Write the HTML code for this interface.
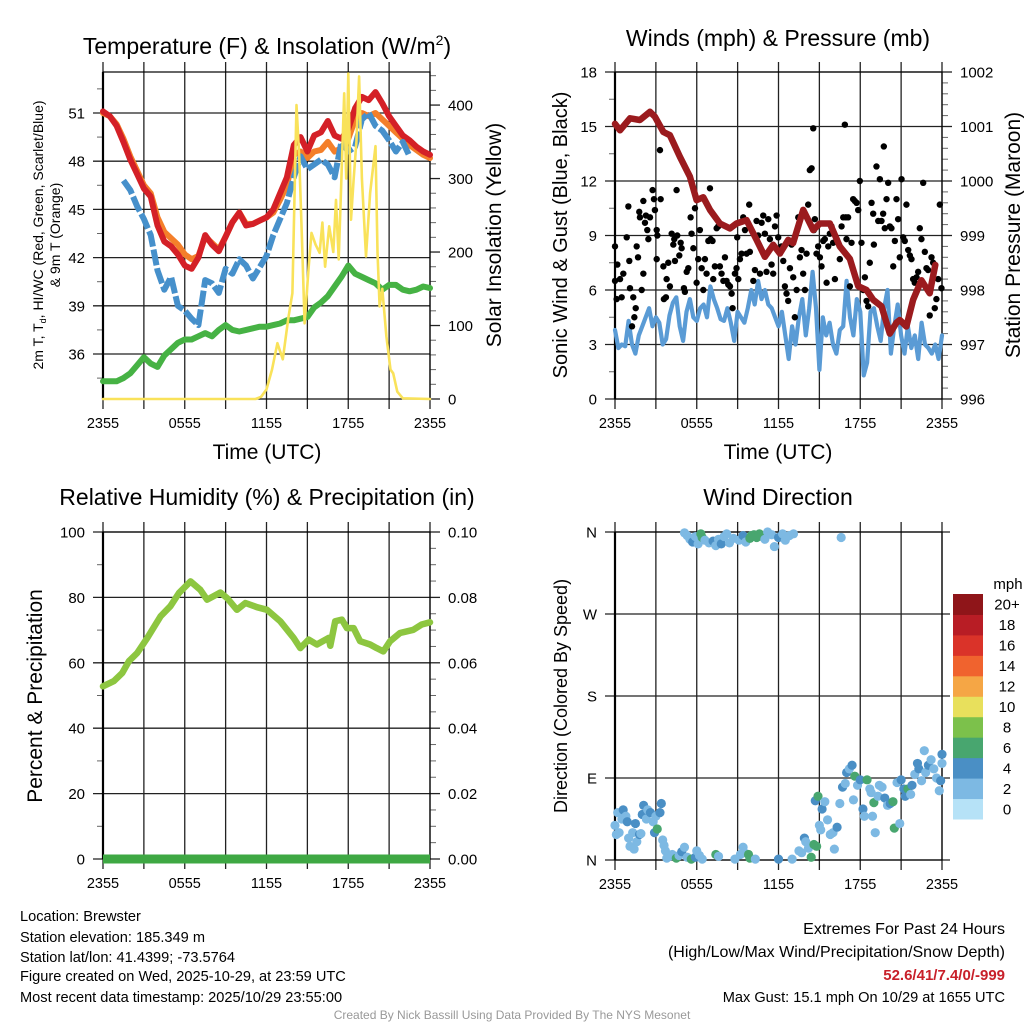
<!DOCTYPE html>
<html><head><meta charset="utf-8"><title>Mesonet Meteogram</title>
<style>
html,body{margin:0;padding:0;background:#fff;}
svg{display:block;font-family:"Liberation Sans",Arial,sans-serif;}
</style></head>
<body>
<svg id="chart" width="1024" height="1024" viewBox="0 0 1024 1024" xmlns="http://www.w3.org/2000/svg">
<rect x="0" y="0" width="1024" height="1024" fill="#fff"/>
<g id="layer"></g>
<text x="267" y="54" font-size="23" text-anchor="middle">Temperature (F) &amp; Insolation (W/m<tspan font-size="14" dy="-9">2</tspan><tspan dy="9">)</tspan></text>
<text x="778" y="46" font-size="23" text-anchor="middle">Winds (mph) &amp; Pressure (mb)</text>
<text x="267" y="505" font-size="23" text-anchor="middle">Relative Humidity (%) &amp; Precipitation (in)</text>
<text x="778" y="505" font-size="23" text-anchor="middle">Wind Direction</text>
<text transform="translate(43,235) rotate(-90)" font-size="14" text-anchor="middle">2m T, T<tspan font-size="9" dy="3">d</tspan><tspan dy="-3">, HI/WC (Red, Green, Scarlet/Blue)</tspan></text>
<text transform="translate(60,235) rotate(-90)" font-size="14" text-anchor="middle">&amp; 9m T (Orange)</text>
<text transform="translate(501,235) rotate(-90)" font-size="21" text-anchor="middle">Solar Insolation (Yellow)</text>
<text x="267" y="459" font-size="21" text-anchor="middle">Time (UTC)</text>
<text transform="translate(567,235) rotate(-90)" font-size="20" text-anchor="middle">Sonic Wind &amp; Gust (Blue, Black)</text>
<text transform="translate(1020,235) rotate(-90)" font-size="21" text-anchor="middle">Station Pressure (Maroon)</text>
<text x="778" y="459" font-size="21" text-anchor="middle">Time (UTC)</text>
<text transform="translate(42,696) rotate(-90)" font-size="21" text-anchor="middle">Percent &amp; Precipitation</text>
<text transform="translate(567,696) rotate(-90)" font-size="18" text-anchor="middle">Direction (Colored By Speed)</text>
<text x="1008" y="589" font-size="15" text-anchor="middle">mph</text>
<g font-size="14.6">
<text x="20" y="921">Location: Brewster</text>
<text x="20" y="942">Station elevation: 185.349 m</text>
<text x="20" y="962">Station lat/lon: 41.4399; -73.5764</text>
<text x="20" y="981">Figure created on Wed, 2025-10-29, at 23:59 UTC</text>
<text x="20" y="1002">Most recent data timestamp: 2025/10/29 23:55:00</text>
</g>
<g text-anchor="end">
<text x="1005" y="934" font-size="16">Extremes For Past 24 Hours</text>
<text x="1005" y="957" font-size="16">(High/Low/Max Wind/Precipitation/Snow Depth)</text>
<text x="1005" y="980" font-size="15" font-weight="bold" fill="#c8202a">52.6/41/7.4/0/-999</text>
<text x="1005" y="1002" font-size="14.6">Max Gust: 15.1 mph On 10/29 at 1655 UTC</text>
</g>
<text x="512" y="1019" font-size="12" fill="#999" text-anchor="middle">Created By Nick Bassill Using Data Provided By The NYS Mesonet</text>
</svg>
<script>
// ---------- DATA ----------
const halfHours = [0,0.5,1,1.5,2,2.5,3,3.5,4,4.5,5,5.5,6,6.5,7,7.5,8,8.5,9,9.5,10,10.5,11,11.5,12,12.5,13,13.5,14,14.5,15,15.5,16,16.5,17,17.5,18,18.5,19,19.5,20,20.5,21,21.5,22,22.5,23,23.5,24];
const tempRed = [51.1,50.8,50.2,49.2,48.1,47.2,46.3,45.8,44.0,43.0,42.7,42.2,41.5,41.3,42.0,43.4,42.8,42.4,43.3,44.2,44.8,44.0,44.1,44.3,44.5,45.0,46.0,47.0,49.0,49.5,48.6,49.6,49.8,50.5,49.6,49.4,50.0,51.3,52.0,51.8,52.3,51.6,50.8,50.2,49.6,49.3,48.9,48.6,48.4];
const tempOrange = [51.0,50.8,50.3,49.4,48.3,47.4,46.5,46.0,44.5,43.6,43.2,42.8,42.2,41.9,42.1,43.3,42.9,42.5,43.3,44.2,44.8,44.1,44.1,44.3,44.5,44.8,45.6,46.5,48.4,48.6,48.2,48.6,48.7,49.2,48.6,48.8,49.4,50.6,51.0,50.8,51.0,50.6,50.2,49.8,49.4,49.0,48.7,48.4,48.2];
const tempBlue = [null,49.0,null,46.8,46.2,45.2,44.4,43.4,41.2,40.0,40.8,39.0,38.7,38.2,37.8,40.6,40.4,39.8,41.3,41.0,41.9,41.5,40.7,41.4,42.1,43.4,44.4,45.4,47.0,48.3,47.5,47.8,48.1,47.8,47.0,49.2,48.6,48.9,50.6,51.0,50.2,49.9,49.3,48.6,49.2,48.3,null,null,null];
const dewGreen = [34.3,34.3,34.3,34.5,34.8,35.3,35.8,35.4,35.2,35.9,36.3,36.7,36.9,36.9,37.1,37.3,37.1,37.5,37.8,37.5,37.4,37.5,37.6,37.7,37.7,37.8,37.9,38.1,38.1,38.2,38.3,38.9,39.2,39.6,40.2,40.8,41.5,41.0,40.8,40.6,40.4,40.0,40.3,40.3,40.0,39.9,40.0,40.2,40.1];
const solarHours = [0,11.2,11.6,12,12.4,12.8,13.2,13.6,13.9,14.2,14.4,14.6,14.8,15.1,15.3,15.6,15.9,16.1,16.3,16.6,16.9,17.1,17.3,17.5,17.7,17.85,18,18.2,18.4,18.6,18.8,19.0,19.3,19.6,20.0,20.15,20.3,20.5,20.8,21.1,21.3,21.6,22,24];
const solarValues = [0,0,3,13,40,76,54,110,144,400,330,220,103,180,226,210,199,240,180,235,200,271,190,300,416,300,443,244,300,350,439,300,194,280,344,200,126,150,85,40,35,10,1,0];
const presHours = [0,0.37,1.1,1.83,2.57,2.93,3.55,4.03,4.77,5.5,5.99,6.48,6.97,7.7,8.44,8.92,9.66,10.39,11.0,11.61,12.1,12.71,13.07,13.81,14.55,15.04,15.77,16.5,17.24,17.85,18.46,18.95,19.56,20.17,20.66,20.9,21.39,21.88,22.49,23.1,23.51];
const presValues = [1001.05,1000.93,1001.15,1001.12,1001.27,1001.18,1000.9,1000.84,1000.44,1000.08,999.65,999.7,999.47,999.22,999.13,999.22,999.28,998.92,998.61,998.83,998.67,998.92,998.86,999.47,999.1,999.22,999.22,998.8,998.57,998.07,998.0,997.82,997.7,997.2,997.4,997.45,997.33,997.82,998.18,997.94,998.46];
const windHours = [0,0.25,0.5,0.75,1,1.25,1.5,1.75,2,2.25,2.5,2.75,3,3.25,3.5,3.75,4,4.25,4.5,4.75,5,5.25,5.5,5.75,6,6.25,6.5,6.75,7,7.25,7.5,7.75,8,8.25,8.5,8.75,9,9.25,9.5,9.75,10,10.25,10.5,10.75,11,11.25,11.5,11.75,12,12.25,12.5,12.75,13,13.25,13.5,13.75,14,14.25,14.5,14.75,15,15.25,15.5,15.75,16,16.25,16.5,16.75,17,17.25,17.5,17.75,18,18.25,18.5,18.75,19,19.25,19.5,19.75,20,20.25,20.5,20.75,21,21.25,21.5,21.75,22,22.25,22.5,22.75,23,23.25,23.5,23.75,24];
const windValues = [3.8,2.8,3.0,2.9,4.3,3.0,2.5,3.5,4.0,4.5,5.0,4.0,4.5,4.2,3.0,3.3,4.6,5.3,5.6,4.0,3.2,4.8,5.5,4.5,4.3,5.0,5.2,4.5,6.2,5.5,5.0,4.4,4.3,5.0,4.2,3.2,4.8,4.5,4.2,5.0,6.0,5.2,6.5,5.5,6.0,5.2,5.0,4.5,4.0,4.8,3.5,2.2,4.0,3.0,4.5,5.5,3.5,5.0,7.0,5.0,1.6,4.5,3.5,4.2,3.0,2.5,3.8,4.0,6.5,4.5,3.5,5.5,4.8,1.3,2.0,4.8,5.0,4.0,3.2,5.0,6.0,2.5,4.0,5.2,3.5,2.5,4.0,2.8,3.5,2.2,4.2,3.0,2.8,2.5,3.0,2.2,3.5];
const gustHours = [
0.00,0.00,0.17,0.12,0.37,0.49,0.61,0.86,0.98,1.05,
1.10,1.25,1.34,1.42,1.52,1.59,1.69,1.78,1.83,1.96,
2.08,2.08,2.20,2.27,2.37,2.45,2.57,2.76,2.86,2.93,
3.06,3.11,3.06,3.30,3.35,3.55,3.59,3.74,3.79,3.91,
4.03,4.16,4.28,4.35,4.40,4.52,4.57,4.72,4.82,4.89,
5.06,5.13,5.26,5.38,5.55,5.62,5.75,5.87,5.99,6.11,
6.23,6.36,6.48,6.60,6.72,6.85,6.97,7.02,7.16,7.21,
7.33,7.46,7.58,7.70,7.82,7.95,8.07,8.19,8.31,8.44,
8.56,8.63,8.80,8.92,8.97,9.05,9.17,9.29,9.41,9.54,
9.66,9.85,9.90,10.15,10.27,10.39,10.51,10.64,10.76,10.88,
11.00,11.12,11.25,11.37,11.49,11.61,11.74,11.86,11.98,12.22,
12.35,12.47,12.59,12.71,12.84,12.96,13.08,13.20,13.33,13.45,
13.57,13.69,13.81,13.94,14.06,14.18,14.30,14.43,14.55,14.60,
14.67,14.79,14.91,15.04,15.16,15.28,15.40,15.53,15.65,15.77,
15.89,16.01,16.14,16.26,16.50,16.63,16.75,16.87,16.94,16.99,
17.11,17.24,17.36,17.48,17.60,17.73,17.85,17.97,18.09,18.22,
18.34,18.46,18.58,18.70,18.83,18.95,19.00,19.19,19.32,19.44,
19.56,19.68,19.73,19.80,19.93,20.05,20.17,20.29,20.42,20.54,
20.66,20.78,20.90,21.03,21.15,21.27,21.39,21.52,21.64,21.76,
21.88,22.00,22.13,22.25,22.37,22.49,22.62,22.74,22.86,22.98,
23.10,23.23,23.35,23.47,23.59,23.72,23.84,23.96];
const gustValues = [
8.4,6.5,7.4,5.5,6.6,5.6,6.9,8.9,10.6,7.6,
6.1,4.0,5.6,4.5,5.0,8.4,7.8,10.3,10.0,6.0,
10.9,6.9,9.7,10.1,9.3,8.8,10.0,11.5,11.0,10.4,
9.3,9.0,7.7,13.7,11.0,7.3,5.5,5.6,6.6,7.5,
6.2,9.1,8.5,8.8,7.6,11.5,9.0,7.9,8.6,8.3,
6.1,5.9,7.0,7.2,10.0,9.1,8.3,10.5,6.4,7.7,
9.3,7.2,6.0,7.7,6.9,8.7,11.6,8.8,8.7,6.6,
7.3,9.4,9.5,7.3,6.9,6.5,7.8,6.5,6.3,6.2,
5.8,5.0,6.9,7.2,8.9,6.6,7.7,8.0,10.0,9.3,
8.0,10.7,8.1,6.5,7.1,9.8,9.0,6.9,9.7,10.1,
9.1,7.0,9.9,8.8,7.4,6.9,9.5,10.1,8.9,8.4,
7.6,6.2,5.8,5.4,7.2,8.5,6.7,4.5,6.0,10.0,
7.8,8.2,6.9,6.0,8.0,10.7,12.6,12.7,14.9,9.3,
9.9,8.0,8.4,7.8,7.3,8.7,8.8,6.4,8.4,9.1,
9.5,8.6,6.6,8.8,7.7,9.5,10.0,15.1,10.0,8.8,
10.0,6.2,8.6,11.0,10.9,10.8,10.4,12.0,8.6,6.0,
6.7,5.4,5.1,7.5,10.8,10.2,8.5,12.8,9.8,12.1,
9.8,10.2,13.9,9.4,11.0,11.9,9.5,9.4,7.3,8.7,
11.0,9.9,7.8,12.1,8.9,8.7,10.7,8.2,7.9,7.7,
6.6,6.4,6.7,7.0,9.4,8.8,11.9,8.1,7.2,7.1,
4.6,7.8,7.5,5.0,5.5,6.6,10.7,6.1];
const rhHours = [0,0.8,1.42,1.9,2.51,3.25,4.22,4.95,5.57,6.42,7.15,7.64,8.62,9.11,9.83,10.45,11.3,12.04,13.01,13.99,14.48,15.09,15.7,16.56,16.68,17.04,17.53,17.9,18.39,18.87,19.6,20.09,20.58,21.07,21.8,22.78,23.39,24];
const rhValues = [52.8,54.4,56.9,60.5,63.0,67.6,74.2,77.3,81.3,84.9,82.3,79.3,81.5,79.8,76.2,78.3,77.0,76.2,72.7,67.6,64.5,67.1,65.6,67.6,65.2,72.7,73.2,70.6,70.6,66.6,65.6,64.5,63.5,66.6,69.1,70.1,71.7,72.4];
const precipHours = [0,24];
const precipValues = [0,0];
const dirHours = [5.1,5.3,5.5,5.7,5.9,6.1,6.3,6.4,6.6,6.9,7.2,7.4,7.6,7.8,8.0,8.2,8.4,8.7,9.1,9.4,9.6,9.9,10.0,10.2,10.4,10.6,10.8,11.0,11.2,11.5,11.7,12.0,12.3,12.5,12.8,13.1,16.6,0.0,0.1,0.2,0.3,0.5,0.6,0.8,0.9,1.0,1.1,1.3,1.4,1.5,1.6,1.8,1.9,2.0,2.1,2.3,2.4,2.6,2.8,2.9,3.0,3.1,3.3,3.4,3.5,3.6,3.7,3.8,4.0,4.2,4.5,4.7,4.9,5.1,5.3,5.6,5.9,6.0,6.2,6.4,7.4,7.6,8.8,9.2,9.4,9.5,9.8,9.9,10.3,12.0,13.0,13.5,13.7,13.9,14.0,14.2,14.4,14.6,14.8,15.0,15.1,14.7,14.9,15.2,15.4,15.6,15.8,16.1,16.0,16.3,16.5,16.7,16.9,17.0,17.2,17.4,17.6,17.5,17.8,18.0,18.2,18.3,18.5,18.7,18.8,19.0,18.9,19.1,19.3,19.4,19.6,19.8,20.0,20.2,20.4,20.5,20.7,20.9,21.0,21.2,21.3,21.5,21.7,21.8,22.0,22.2,22.3,22.5,22.7,22.8,23.0,23.2,23.4,23.6,23.8,23.9,24.0,24.0];
const dirValues = [359,356,352,349,355,347,358,354,351,348,350,345,352,347,355,358,348,353,351,356,349,353,356,357,354,358,355,352,360,357,344,354,358,351,356,358,354,38,28,52,30,45,55,48,42,24,15,30,12,40,20,28,29,50,60,45,55,52,42,30,48,34,52,62,22,16,10,2,4,6,2,5,9,14,3,1,3,10,5,1,6,4,1,6,14,8,6,2,1,1,1,10,8,24,20,13,3,17,15,38,33,65,70,56,64,44,28,12,30,36,62,80,84,96,100,104,92,66,82,88,56,48,88,78,74,63,48,30,70,82,80,68,60,62,64,35,85,40,88,78,70,78,72,82,94,106,100,87,120,96,104,110,100,90,76,87,116,106];
const dirSpeeds = [3,3,3.5,4,3,3,6.5,7,3,3,4,3.5,2.5,4,3,3.5,3,2.5,3,4,3,6.5,7,6.5,7,6,6.5,3.5,3,3.5,3,4,3,2.5,3,3,3.5,3,3,2.5,2.5,2,4,3.5,4,2.5,2,3,2.5,4,3,4,3.5,4,4,3.5,3,4,3.5,4,3.5,6.5,4,4,3.5,3,2,3.5,3,3.5,6.5,3,4,3.5,3,6.5,4,3.5,3,3,6.5,3.5,3.5,3,3.5,2.5,6.5,7,3,4,3.5,3.5,3,4,2.5,3.5,7,6.5,7,3,3.5,4,6.5,4,3,3,3,2,3.5,4,2,4,3,4,3.5,4,6.5,2.5,3,4,4,3.5,7,2,2,6.5,3,3.5,3,2.5,3,4,3.5,4,6.5,6.5,3.5,3,4,4,4,6.5,3,4,3,4,4,3,2,2.5,4,2.5,2,2,2.5,4,4,2];
const speedLabels = ['0','2','4','6','8','10','12','14','16','18','20+'];
const speedColors = ['#b6e2f7','#7db9e3','#4a8fc5','#48a66f','#7cc14b','#e8e05c','#f5a645','#f0632e','#da3329','#b81d25','#8f1519'];
const timeTickLabels = ['2355','0555','1155','1755','2355'];
const tempTicks = [36,39,42,45,48,51];
const solarTicks = [0,100,200,300,400];
const windTicks = [0,3,6,9,12,15,18];
const presTicks = [996,997,998,999,1000,1001,1002];
const rhTicks = [0,20,40,60,80,100];
const precipTicks = ['0.00','0.02','0.04','0.06','0.08','0.10'];
const dirTicks = [0,90,180,270,360];
const dirTickLabels = ['N','E','S','W','N'];

// ---------- HELPERS ----------
const NS='http://www.w3.org/2000/svg';
const layer=document.getElementById('layer');
function mk(tag,attrs,parent){const e=document.createElementNS(NS,tag);for(const k in attrs)e.setAttribute(k,attrs[k]);(parent||layer).appendChild(e);return e;}
function lin(d0,d1,r0,r1){return v=>r0+(v-d0)/(d1-d0)*(r1-r0);}
function pathFrom(xs,ys,sx,sy){let d='',pen=false;for(let i=0;i<xs.length;i++){if(ys[i]===null||ys[i]===undefined){pen=false;continue;}d+=(pen?'L':'M')+sx(xs[i]).toFixed(1)+' '+sy(ys[i]).toFixed(1);pen=true;}return d;}

const panels=[
 {id:'temperature',x0:103,x1:430,y0:72,y1:399},
 {id:'winds',x0:615,x1:942,y0:72,y1:399},
 {id:'humidity',x0:103,x1:430,y0:532,y1:859},
 {id:'direction',x0:615,x1:942,y0:532,y1:860}
];

function drawFrame(p,leftTicks,leftScale,leftLabels,leftMinor,rightTicks,rightScale,rightLabels,rightMinor){
 const g=mk('g',{});
 
 
 const sx=lin(0,24,p.x0,p.x1);
 for(let h=0;h<=24;h+=3){
  const x=sx(h);
  const l=mk('line',{x1:x,x2:x,y1:p.y0-10,y2:p.y1+10,stroke:'#222','stroke-width':1.3},g);
  
  
 }
 timeTickLabels.forEach((t,i)=>{
  const tx=mk('text',{x:sx(i*6),y:p.y1+29,'font-size':14.5,'text-anchor':'middle'},g);
  tx.textContent=t;
  
  
 });
 leftTicks.forEach((v,i)=>{
  const y=leftScale(v);
  const l=mk('line',{x1:p.x0-10,x2:p.x1+(rightTicks?0:8),y1:y,y2:y,stroke:'#222','stroke-width':1.3},g);
  
  
  const tx=mk('text',{x:p.x0-18,y:y+5.5,'font-size':15,'text-anchor':'end'},g);
  tx.textContent=leftLabels[i];
  
  
 });
 (leftMinor||[]).forEach(v=>{
  const y=leftScale(v);
  const l=mk('line',{x1:p.x0-6,x2:p.x0,y1:y,y2:y,stroke:'#666','stroke-width':1},g);
  
  
 });
 if(rightTicks){
  rightTicks.forEach((v,i)=>{
   const y=rightScale(v);
   const l=mk('line',{x1:p.x1,x2:p.x1+10,y1:y,y2:y,stroke:'#222','stroke-width':1.3},g);
   
   
   const tx=mk('text',{x:p.x1+18,y:y+5.5,'font-size':15,'text-anchor':'start'},g);
   tx.textContent=rightLabels[i];
   
   
  });
  (rightMinor||[]).forEach(v=>{
   const y=rightScale(v);
   const l=mk('line',{x1:p.x1,x2:p.x1+6,y1:y,y2:y,stroke:'#666','stroke-width':1},g);
   
   
  });
 }
 const f=mk('rect',{x:p.x0,y:p.y0,width:p.x1-p.x0,height:p.y1-p.y0,fill:'none',stroke:'#000','stroke-width':1.2},g);
 
 
 const lb=mk('line',{x1:p.x0,x2:p.x0,y1:p.y0,y2:p.y1,stroke:'#000','stroke-width':2.2},g);
 
 
 return sx;
}
function line(name,xs,ys,sx,sy,color,w,extra){
 const e=mk('path',Object.assign({d:pathFrom(xs,ys,sx,sy),fill:'none',stroke:color,'stroke-width':w,'stroke-linejoin':'round','stroke-linecap':'round'},extra||{}));
 
 
 return e;
}

// ---------- PANEL 1: temperature ----------
{
 const p=panels[0];
 const sy=lin(33.2,53.55,p.y1,p.y0), sr=lin(0,445,p.y1,p.y0);
 const minorT=[34.5,37.5,40.5,43.5,46.5,49.5,52.5];
 const minorS=[];for(let v=20;v<=440;v+=20)if(v%100)minorS.push(v);
 const sx=drawFrame(p,tempTicks,sy,tempTicks.map(String),minorT,solarTicks,sr,solarTicks.map(String),minorS);
 line('temperature-9m-orange-line',halfHours,tempOrange,sx,sy,'#f47f2a',6);
 line('temperature-2m-red-line',halfHours,tempRed,sx,sy,'#d42027',6);
 line('heat-index-blue-line',halfHours,tempBlue,sx,sy,'#4690cb',6,{'stroke-dasharray':'16 3','stroke-linecap':'butt'});
 line('dewpoint-green-line',halfHours,dewGreen,sx,sy,'#46b244',6);
 line('solar-insolation-yellow-line',solarHours,solarValues,sx,sr,'#f9e25a',2.6);
}
// ---------- PANEL 2: winds ----------
{
 const p=panels[1];
 const sy=lin(0,18,p.y1,p.y0), sr=lin(996,1002,p.y1,p.y0);
 const minorW=[1.5,4.5,7.5,10.5,13.5,16.5];
 const minorP=[];for(let v=996.2;v<1002;v+=0.2){if(Math.abs(v-Math.round(v))>0.05)minorP.push(v);}
 const sx=drawFrame(p,windTicks,sy,windTicks.map(String),minorW,presTicks,sr,presTicks.map(String),minorP);
 line('sonic-wind-blue-line',windHours,windValues,sx,sy,'#5a9bd5',4.2);
 const gg=mk('g',{});
 
 
 const ng=Math.min(gustHours.length,gustValues.length);
 for(let i=0;i<ng;i++){
  const c=mk('circle',{cx:sx(gustHours[i]),cy:sy(gustValues[i]),r:3.2,fill:'#000'},gg);
  
  
 }
 line('station-pressure-maroon-line',presHours,presValues,sx,sr,'#9b1b1e',6.5);
}
// ---------- PANEL 3: humidity ----------
{
 const p=panels[2];
 const sy=lin(0,100,p.y1,p.y0), sr=lin(0,0.1,p.y1,p.y0);
 const minorR=[10,30,50,70,90];
 const minorP=[];for(let v=0.005;v<0.1;v+=0.005){if(Math.round(v*1000)%20)minorP.push(v);}
 const sx=drawFrame(p,rhTicks,sy,rhTicks.map(String),minorR,precipTicks.map(Number),sr,precipTicks,minorP);
 line('relative-humidity-line',rhHours,rhValues,sx,sy,'#8dc640',6.5);
 line('precipitation-line',precipHours,precipValues,sx,sr,'#3ea843',9,{'stroke-linecap':'butt'});
}
// ---------- PANEL 4: direction ----------
{
 const p=panels[3];
 const sy=lin(0,360,p.y1,p.y0);
 const sx=drawFrame(p,dirTicks,sy,dirTickLabels,null,null);
 const dg=mk('g',{});
 
 
 const nd=Math.min(dirHours.length,dirValues.length,dirSpeeds.length);
 for(let i=0;i<nd;i++){
  const idx=Math.min(10,Math.floor(dirSpeeds[i]/2));
  const c=mk('circle',{cx:sx(dirHours[i]),cy:sy(dirValues[i]),r:4.6,fill:speedColors[idx]},dg);
  
  
 }
 const cb=mk('g',{});
 
 
 const top=594,bot=819,n=speedLabels.length,hh=(bot-top)/n;
 for(let i=0;i<n;i++){
  const y=bot-(i+1)*hh;
  const r=mk('rect',{x:953,y:y,width:30,height:hh+0.5,fill:speedColors[i]},cb);
  
  
  const t=mk('text',{x:1007,y:y+hh/2+5.5,'font-size':15,'text-anchor':'middle'},cb);
  t.textContent=speedLabels[i];
  
  
 }
}
</script>
</body></html>
